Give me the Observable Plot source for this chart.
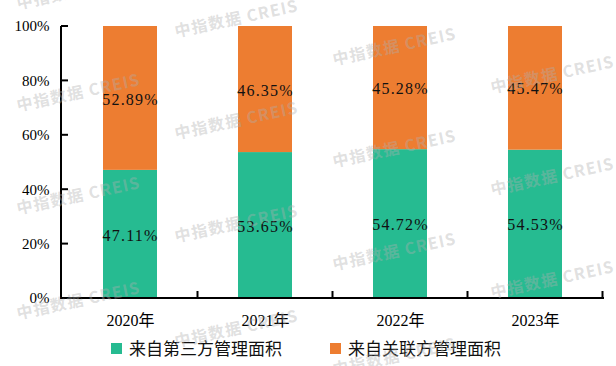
<!DOCTYPE html>
<html><head><meta charset="utf-8">
<script src="https://cdn.jsdelivr.net/npm/d3@7"></script>
<script src="https://cdn.jsdelivr.net/npm/@observablehq/plot@0.6"></script>
<style>
body{margin:0;background:#fff;}
#wrap{position:relative;width:616px;height:366px;overflow:hidden;background:#fff;}
#chart svg{display:block;}
g[aria-label="text"] text{letter-spacing:1.2px;}
.lg-sq{position:absolute;width:11px;height:11px;}
.lg-tx{position:absolute;font-family:"Noto Sans CJK SC",sans-serif;font-size:17px;line-height:20px;color:#111;white-space:nowrap;}
#wm{position:absolute;left:0;top:0;pointer-events:none;}
</style></head><body>
<div id="wrap"><div id="chart"></div></div>
<script>
const years = ["2020年", "2021年", "2022年", "2023年"];
const seriesNames = ["来自第三方管理面积", "来自关联方管理面积"];
const thirdParty = [47.11, 53.65, 54.72, 54.53];
const related = [52.89, 46.35, 45.28, 45.47];
const yTicks = [0, 20, 40, 60, 80, 100];
const colors = ["#26BB91", "#ED7D31"];

const rows = [];
years.forEach((y, i) => {
  rows.push({year: y, series: seriesNames[0], value: thirdParty[i]});
  rows.push({year: y, series: seriesNames[1], value: related[i]});
});

function axesLines(index, scales, values, dims) {
  const g = d3.create("svg:g").attr("stroke", "#000").attr("stroke-width", 2).attr("fill", "none");
  const x0 = dims.marginLeft, x1 = dims.width - dims.marginRight;
  const yb = scales.y(0), yt = scales.y(100);
  g.append("path").attr("d", `M${x0},${yt}V${yb}H${x1}`);
  for (const t of yTicks) g.append("path").attr("d", `M${x0},${scales.y(t)}h7`);
  const step = scales.x.step(), bw = scales.x.bandwidth();
  for (const yr of years) {
    const xb = scales.x(yr) + bw / 2 + step / 2;
    g.append("path").attr("d", `M${xb},${yb}v-7`);
  }
  return g.node();
}

const serif = "'Liberation Serif', 'Noto Sans CJK SC', serif";
const chart = Plot.plot({
  width: 616,
  height: 335,
  marginLeft: 61,
  marginRight: 12,
  marginTop: 26,
  marginBottom: 37,
  style: {background: "#fff", color: "#000", fontFamily: serif},
  x: {domain: years, paddingInner: 0.6, paddingOuter: 0.3, align: 0.5},
  y: {domain: [0, 100]},
  color: {domain: seriesNames, range: colors},
  marks: [
    Plot.barY(rows, {x: "year", y: "value", fill: "series", z: "series", order: seriesNames}),
    Plot.text(rows, Plot.stackY({x: "year", y: "value", z: "series", order: seriesNames, text: d => d.value.toFixed(2) + "%", fontSize: 16, fontFamily: serif, fill: "#111", dy: 1})),
    Plot.axisY(yTicks, {tickSize: 0, tickPadding: 12, tickFormat: d => d + "%", fontSize: 15, fontFamily: serif, fill: "#000", label: null}),
    Plot.axisX({tickSize: 0, tickPadding: 16, fontSize: 16, fontFamily: serif, fill: "#000", label: null}),
    axesLines
  ]
});
const wrap = document.getElementById("wrap");
document.getElementById("chart").appendChild(chart);

// legend
const legendItems = [
  {sq: 111, tx: 129},
  {sq: 330, tx: 348}
];
seriesNames.forEach((name, i) => {
  const s = document.createElement("div");
  s.className = "lg-sq";
  s.style.left = legendItems[i].sq + "px";
  s.style.top = "343px";
  s.style.background = colors[i];
  wrap.appendChild(s);
  const t = document.createElement("div");
  t.className = "lg-tx";
  t.style.left = legendItems[i].tx + "px";
  t.style.top = "338px";
  t.textContent = name;
  wrap.appendChild(t);
});

// watermark
const wmText = "中指数据 CREIS";
const wmCols = [17, 175, 333, 491];
const wmRows = [-98, 5, 107, 210, 315, 418];
const svgNS = "http://www.w3.org/2000/svg";
const wm = document.createElementNS(svgNS, "svg");
wm.setAttribute("id", "wm");
wm.setAttribute("width", 616);
wm.setAttribute("height", 366);
wmCols.forEach((cx, ci) => {
  wmRows.forEach(ry => {
    const y = ry + ci * 28;
    if (y < -30 || y > 390) return;
    const t = document.createElementNS(svgNS, "text");
    t.setAttribute("x", cx);
    t.setAttribute("y", y);
    t.setAttribute("transform", `rotate(-12 ${cx} ${y})`);
    t.setAttribute("font-family", "'Noto Sans CJK SC', sans-serif");
    t.setAttribute("font-weight", "bold");
    t.setAttribute("font-size", 16);
    t.setAttribute("letter-spacing", "1.2");
    t.setAttribute("dominant-baseline", "middle");
    t.setAttribute("fill", "rgba(175,175,175,0.4)");
    t.textContent = wmText;
    wm.appendChild(t);
  });
});
wrap.appendChild(wm);
</script>
</body></html>
